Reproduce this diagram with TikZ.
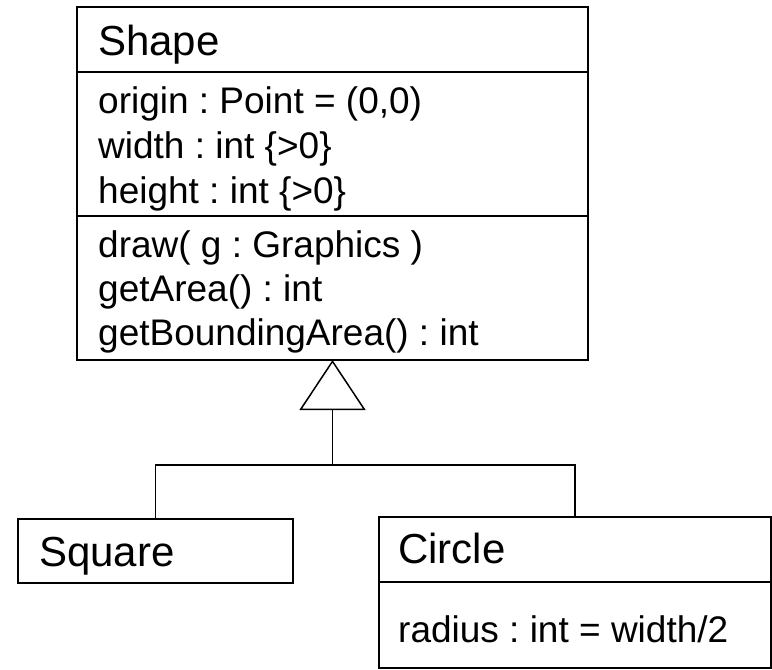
\documentclass[tikz,border=0pt]{standalone}
\usepackage{fontspec}
\setmainfont{Liberation Sans}
\usetikzlibrary{arrows.meta}
\frenchspacing
\begin{document}
\begin{tikzpicture}[x=1pt,y=-1pt,
  box/.style={draw, line width=2pt, anchor=north west, inner sep=0pt, outer sep=0pt},
  divider/.style={line width=2pt},
  body/.style={anchor=base west, inner sep=0pt, font=\frenchspacing\fontsize{37}{44}\selectfont},
  title/.style={anchor=base west, inner sep=0pt, font=\frenchspacing\fontsize{42}{50}\selectfont},
  conn/.style={line width=1.5pt}]
\useasboundingbox[fill=white] (0,0) rectangle (772,670);

% Shape class
\node[box, minimum width=511pt, minimum height=353pt] (shape) at (77,7) {};
\draw[divider] (shape.west |- 0,72) -- (shape.east |- 0,72);
\draw[divider] (shape.west |- 0,216) -- (shape.east |- 0,216);
\node[title] (shapeT) at (98,55) {Shape};
\node[body] (a1) at (98,113) {origin : Point = (0,0)};
\node[body] (a2) at (98,158) {width : int \{>0\}};
\node[body] (a3) at (98,203) {height : int \{>0\}};
\node[body] (o1) at (98,257) {draw( g : Graphics )};
\node[body] (o2) at (98,301) {getArea() : int};
\node[body] (o3) at (98,345) {getBoundingArea() : int};

% Square class
\node[box, minimum width=275pt, minimum height=64pt] (square) at (18,519) {};
\node[title] (squareT) at (39,566) {Square};

% Circle class
\node[box, minimum width=392pt, minimum height=151pt] (circle) at (379,517) {};
\draw[divider] (circle.west |- 0,582) -- (circle.east |- 0,582);
\node[title] (circleT) at (398,563) {Circle};
\node[body] (radius) at (398,642) {radius : int = width/2};

% Generalization
\coordinate (j) at (332.5,465);
\draw[conn] (square.north) |- (j);
\draw[conn] (circle.north) |- (j);
\draw[conn, -{Triangle[open, length=50pt, width=66pt, line width=1.5pt]}] (j) -- (shape.south);
\end{tikzpicture}
\end{document}
